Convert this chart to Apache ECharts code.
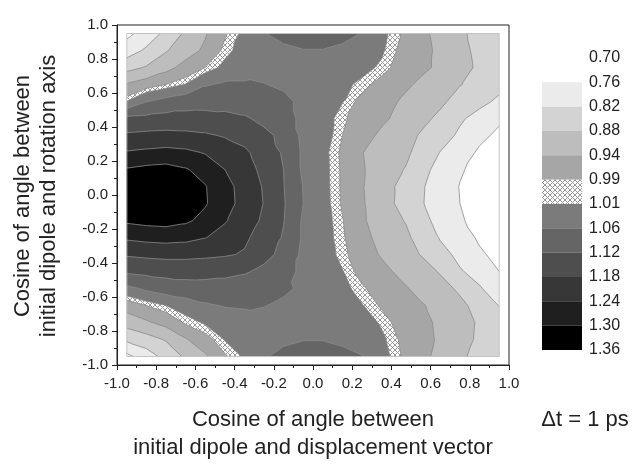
<!DOCTYPE html>
<html><head><meta charset="utf-8">
<script src="https://cdn.jsdelivr.net/npm/echarts/dist/echarts.min.js"></script>
<style>html,body{margin:0;padding:0;background:#fff}#c{width:634px;height:467px}</style>
</head><body><div id="c"></div>
<script>
// ---- grid coordinates (cosine values of bin centres) ----
const xCenters = [-0.95,-0.85,-0.75,-0.65,-0.55,-0.45,-0.35,-0.25,-0.15,-0.05,0.05,0.15,0.25,0.35,0.45,0.55,0.65,0.75,0.85,0.95];
const yCenters = [0.95,0.85,0.75,0.65,0.55,0.45,0.35,0.25,0.15,0.05,-0.05,-0.15,-0.25,-0.35,-0.45,-0.55,-0.65,-0.75,-0.85,-0.95];

// ---- values, one row per y (top to bottom) ----
const row_p95 = [0.745,0.785,0.835,0.89,0.935,0.985,1.02,1.058,1.075,1.085,1.085,1.075,1.058,1.02,0.99,0.952,0.925,0.89,0.862,0.845];
const row_p85 = [0.79,0.83,0.875,0.915,0.95,1.00,1.025,1.04,1.05,1.058,1.058,1.05,1.035,1.015,0.982,0.955,0.93,0.897,0.865,0.835];
const row_p75 = [0.86,0.885,0.922,0.96,0.99,1.02,1.03,1.04,1.045,1.045,1.04,1.03,1.02,1.005,0.972,0.952,0.93,0.90,0.87,0.85];
const row_p65 = [0.945,0.97,0.99,1.012,1.055,1.068,1.068,1.062,1.05,1.04,1.03,1.018,1.003,0.975,0.955,0.93,0.91,0.882,0.865,0.835];
const row_p55 = [1.012,1.058,1.08,1.095,1.10,1.102,1.10,1.09,1.075,1.045,1.025,1.012,0.978,0.965,0.935,0.912,0.89,0.86,0.835,0.81];
const row_p45 = [1.13,1.135,1.14,1.14,1.138,1.133,1.125,1.11,1.085,1.045,1.03,0.995,0.975,0.95,0.925,0.895,0.868,0.828,0.80,0.768];
const row_p35 = [1.19,1.195,1.198,1.195,1.188,1.175,1.16,1.13,1.11,1.045,1.03,0.99,0.96,0.93,0.905,0.875,0.845,0.81,0.772,0.75];
const row_p25 = [1.245,1.252,1.258,1.252,1.236,1.215,1.19,1.155,1.113,1.05,1.022,0.983,0.942,0.918,0.895,0.865,0.818,0.785,0.752,0.74];
const row_p15 = [1.305,1.315,1.32,1.305,1.278,1.24,1.205,1.165,1.12,1.05,1.023,0.985,0.945,0.915,0.885,0.84,0.80,0.765,0.745,0.73];
const row_p05 = [1.335,1.345,1.345,1.33,1.303,1.262,1.215,1.175,1.122,1.058,1.024,0.985,0.944,0.905,0.868,0.828,0.79,0.758,0.735,0.72];
const row_m05 = [1.335,1.345,1.345,1.33,1.305,1.264,1.218,1.178,1.125,1.06,1.025,0.986,0.946,0.906,0.866,0.826,0.79,0.76,0.736,0.722];
const row_m15 = [1.31,1.318,1.322,1.31,1.283,1.245,1.21,1.17,1.122,1.052,1.027,0.992,0.947,0.915,0.885,0.84,0.80,0.765,0.745,0.732];
const row_m25 = [1.25,1.258,1.262,1.257,1.242,1.218,1.19,1.155,1.115,1.052,1.028,0.995,0.955,0.925,0.895,0.865,0.815,0.785,0.752,0.74];
const row_m35 = [1.186,1.192,1.196,1.196,1.192,1.186,1.175,1.133,1.108,1.045,1.03,1.0,0.965,0.935,0.905,0.878,0.84,0.805,0.768,0.745];
const row_m45 = [1.128,1.135,1.14,1.14,1.138,1.133,1.125,1.11,1.085,1.045,1.032,1.012,0.975,0.955,0.928,0.905,0.875,0.825,0.80,0.76];
const row_m55 = [1.045,1.07,1.088,1.098,1.10,1.10,1.095,1.085,1.07,1.05,1.035,1.022,0.995,0.972,0.95,0.925,0.90,0.87,0.825,0.79];
const row_m65 = [0.965,0.99,1.01,1.03,1.052,1.064,1.068,1.062,1.05,1.045,1.037,1.028,1.012,0.985,0.965,0.945,0.925,0.893,0.86,0.818];
const row_m75 = [0.905,0.932,0.96,0.995,1.015,1.02,1.03,1.04,1.045,1.048,1.045,1.04,1.03,1.005,0.975,0.955,0.93,0.905,0.872,0.848];
const row_m85 = [0.83,0.855,0.885,0.935,0.975,1.012,1.025,1.04,1.05,1.058,1.058,1.05,1.035,1.018,0.985,0.958,0.932,0.902,0.87,0.845];
const row_m95 = [0.745,0.79,0.84,0.89,0.932,0.985,1.015,1.055,1.075,1.085,1.085,1.075,1.062,1.025,0.99,0.955,0.925,0.89,0.862,0.845];

const gridRows = [row_p95,row_p85,row_p75,row_p65,row_p55,row_p45,row_p35,row_p25,row_p15,row_p05,
                  row_m05,row_m15,row_m25,row_m35,row_m45,row_m55,row_m65,row_m75,row_m85,row_m95];

// ---- contour levels / colour scale ----
const levels = [0.70,0.76,0.82,0.88,0.94,0.99,1.01,1.06,1.12,1.18,1.24,1.30,1.36];
const levelLabels = ['0.70','0.76','0.82','0.88','0.94','0.99','1.01','1.06','1.12','1.18','1.24','1.30','1.36'];
const bandColors = ['#ffffff','#ebebeb','#d3d3d3','#bdbdbd','#a6a6a6','HATCH','#7b7b7b','#656565','#4e4e4e','#373737','#1f1f1f','#000000'];
const bandUnits = [1,1,1,1,1,1,1,1,1,1,1,1];
const axisTicks = [-1.0,-0.8,-0.6,-0.4,-0.2,0.0,0.2,0.4,0.6,0.8,1.0];

const FONT = "'Liberation Sans', Arial, Helvetica, sans-serif";

function makeHatch(){
  const n = 5;
  const c = document.createElement('canvas'); c.width = n; c.height = n;
  const g = c.getContext('2d');
  g.fillStyle = '#ffffff'; g.fillRect(0,0,n,n);
  g.strokeStyle = '#9a9a9a'; g.lineWidth = 1;
  g.beginPath(); g.moveTo(0,0); g.lineTo(n,n); g.moveTo(n,0); g.lineTo(0,n); g.stroke();
  return c;
}
const hatchCanvas = makeHatch();
function bandFill(k){ return bandColors[k] === 'HATCH' ? {image: hatchCanvas, repeat: 'repeat'} : bandColors[k]; }

// split every cell along the diagonal whose corner values are closest
function triangles(){
  const out = [];
  const v = (q) => gridRows[q[0]][q[1]];
  for (let j = 0; j < yCenters.length - 1; j++) {
    for (let i = 0; i < xCenters.length - 1; i++) {
      const a=[j,i], b=[j,i+1], c=[j+1,i+1], d=[j+1,i];
      if (Math.abs(v(a) - v(c)) <= Math.abs(v(b) - v(d))) { out.push([a,b,c]); out.push([a,c,d]); }
      else { out.push([a,b,d]); out.push([b,c,d]); }
    }
  }
  return out;
}
const TRIS = triangles();

function renderLayer(params, api){
  const k = api.value(2);
  const P = yCenters.map(y => xCenters.map(x => api.coord([x, y])));
  const f = (n) => n.toFixed(2);
  const p0 = api.coord([xCenters[0], yCenters[0]]);
  const p1 = api.coord([xCenters[xCenters.length-1], yCenters[yCenters.length-1]]);
  if (k === 0) {
    return {type:'rect', shape:{x:p0[0], y:p0[1], width:p1[0]-p0[0], height:p1[1]-p0[1]}, style:{fill: bandFill(0)}};
  }
  if (k < 12) {
    const L = levels[k];
    let d = '';
    for (const t of TRIS) {
      const pts = t.map(q => P[q[0]][q[1]]);
      const vals = t.map(q => gridRows[q[0]][q[1]]);
      const poly = [];
      for (let a = 0; a < 3; a++) {
        const b = (a + 1) % 3;
        const ia = vals[a] >= L, ib = vals[b] >= L;
        if (ia) poly.push(pts[a]);
        if (ia !== ib) {
          const s = (L - vals[a]) / (vals[b] - vals[a]);
          poly.push([pts[a][0] + s*(pts[b][0]-pts[a][0]), pts[a][1] + s*(pts[b][1]-pts[a][1])]);
        }
      }
      if (poly.length >= 3) {
        d += 'M' + f(poly[0][0]) + ' ' + f(poly[0][1]);
        for (let m = 1; m < poly.length; m++) d += 'L' + f(poly[m][0]) + ' ' + f(poly[m][1]);
        d += 'Z';
      }
    }
    if (!d) return null;
    return {type:'path', shape:{pathData: d}, style:{fill: bandFill(k), stroke: null}};
  }
  // contour lines + data frame
  let d = '';
  for (let k2 = 1; k2 < 12; k2++) {
    const L = levels[k2];
    for (const t of TRIS) {
      const pts = t.map(q => P[q[0]][q[1]]);
      const vals = t.map(q => gridRows[q[0]][q[1]]);
      const seg = [];
      for (let a = 0; a < 3; a++) {
        const b = (a + 1) % 3;
        const ia = vals[a] >= L, ib = vals[b] >= L;
        if (ia !== ib) {
          const s = (L - vals[a]) / (vals[b] - vals[a]);
          seg.push([pts[a][0] + s*(pts[b][0]-pts[a][0]), pts[a][1] + s*(pts[b][1]-pts[a][1])]);
        }
      }
      if (seg.length === 2) d += 'M' + f(seg[0][0]) + ' ' + f(seg[0][1]) + 'L' + f(seg[1][0]) + ' ' + f(seg[1][1]);
    }
  }
  return {type:'group', children:[
    {type:'path', shape:{pathData: d}, style:{fill: null, stroke:'#8a8a8a', lineWidth:0.8}},
    {type:'rect', shape:{x:p0[0], y:p0[1], width:p1[0]-p0[0], height:p1[1]-p0[1]}, style:{fill:null, stroke:'#c4c4c4', lineWidth:1}}
  ]};
}

const layerData = levels.slice(0, 12).map((_, k) => [0, 0, k]).concat([[0, 0, 12]]);

const tickFmt = v => (Math.abs(v) < 1e-9 ? 0 : v).toFixed(1);

const axisCommon = {
  type:'value', min:-1, max:1, interval:0.2,
  axisLine:{show:true, onZero:false, lineStyle:{color:'#222', width:1}},
  axisTick:{show:true, inside:false, length:5, lineStyle:{color:'#222', width:1}},
  minorTick:{show:true, splitNumber:2, length:3, lineStyle:{color:'#222', width:1}},
  splitLine:{show:false}, minorSplitLine:{show:false},
  axisLabel:{fontSize:15, color:'#222', fontFamily:FONT, formatter: tickFmt, showMinLabel:true, showMaxLabel:true, hideOverlap:false}
};

const cbSeries = bandUnits.map((u, k) => ({
  type:'bar', xAxisIndex:1, yAxisIndex:1, stack:'cb', data:[u], barWidth:'100%', silent:true,
  itemStyle:{color: bandFill(k)}, animation:false
}));

const option = {
  animation:false,
  backgroundColor:'#ffffff',
  grid:[
    {left:117, top:25, width:392, height:340, show:true, borderColor:'#222', borderWidth:1, backgroundColor:'transparent', containLabel:false, outerBoundsMode:'none'},
    {left:542, top:58, width:40, height:292, show:false, containLabel:false, outerBoundsMode:'none'}
  ],
  xAxis:[
    Object.assign({}, axisCommon, {gridIndex:0, position:'bottom', axisLabel:Object.assign({}, axisCommon.axisLabel, {margin:11})}),
    {gridIndex:1, type:'category', data:['cb'], show:false}
  ],
  yAxis:[
    Object.assign({}, axisCommon, {gridIndex:0, position:'left', axisLabel:Object.assign({}, axisCommon.axisLabel, {margin:9})}),
    {gridIndex:1, type:'value', min:0, max:12, interval:1, inverse:true, position:'right',
     axisLine:{show:false}, axisTick:{show:false}, splitLine:{show:false},
     axisLabel:{show:true, margin:7, fontSize:16, color:'#222', fontFamily:FONT, formatter: v => levelLabels[Math.round(v)], showMinLabel:true, showMaxLabel:true, hideOverlap:false}}
  ],
  series:[
    {type:'custom', coordinateSystem:'cartesian2d', xAxisIndex:0, yAxisIndex:0, silent:true, clip:false,
     encode:{x:0, y:1}, data: layerData, renderItem: renderLayer, animation:false}
  ].concat(cbSeries),
  graphic:[
    {type:'text', x:313, y:434, silent:true,
     style:{text:'Cosine of angle between\ninitial dipole and displacement vector', fontSize:22, fontFamily:FONT, fill:'#222',
            align:'center', verticalAlign:'middle', textAlign:'center', textVerticalAlign:'middle', lineHeight:28}},
    {type:'text', x:36, y:196, rotation:Math.PI/2, silent:true,
     style:{text:'Cosine of angle between\ninitial dipole and rotation axis', fontSize:22, fontFamily:FONT, fill:'#222',
            align:'center', verticalAlign:'middle', textAlign:'center', textVerticalAlign:'middle', lineHeight:26}},
    {type:'text', x:585, y:420, silent:true,
     style:{text:'\u0394t = 1 ps', fontSize:22, fontFamily:FONT, fill:'#222',
            align:'center', verticalAlign:'middle', textAlign:'center', textVerticalAlign:'middle'}}
  ]
};

const chart = echarts.init(document.getElementById('c'), null, {renderer:'canvas', width:634, height:467});
chart.setOption(option);
</script>
</body></html>
